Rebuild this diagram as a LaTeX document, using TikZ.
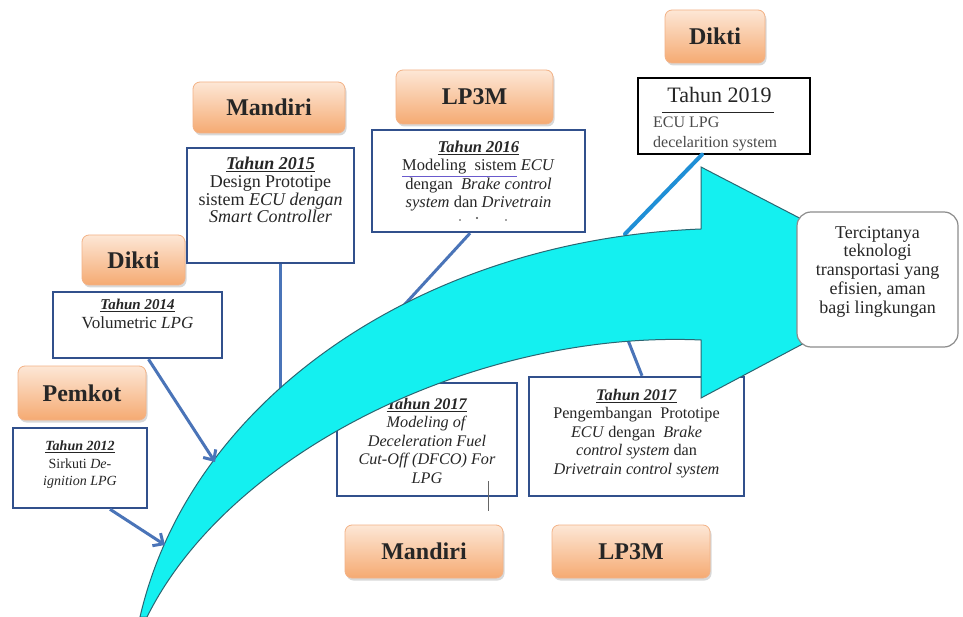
\documentclass[tikz,border=0pt]{standalone}
\usepackage{fontspec}
\setmainfont{Liberation Serif}
\usetikzlibrary{arrows.meta,shadows}

\definecolor{boxedge}{HTML}{31508C}
\definecolor{linkblue}{HTML}{4A74B8}
\definecolor{brightlink}{HTML}{1F8FD6}
\definecolor{arrowcyan}{HTML}{14F0F0}
\definecolor{arrowedge}{HTML}{2A6672}
\definecolor{tagtop}{HTML}{FDE7D6}
\definecolor{tagbot}{HTML}{F5AA72}
\definecolor{tagedge}{HTML}{F3B286}
\definecolor{txt}{HTML}{262626}
\definecolor{softtxt}{HTML}{4A4A4A}
\definecolor{spellblue}{HTML}{6A5ACD}

\newcommand\tahun[1]{\underline{\textbf{\textit{Tahun #1}}}}
\newcommand\spellmark[1]{\textcolor{spellblue}{\underline{\textcolor{txt}{#1}}}}
\newcommand\fs[2]{\fontsize{#1}{#2}\selectfont}

\tikzset{
  tag/.style={rounded corners=7pt, top color=tagtop, bottom color=tagbot,
    draw=tagedge, line width=0.8pt, font=\fs{24}{26}\bfseries, text=txt,
    inner sep=0pt, drop shadow={shadow xshift=1.5pt, shadow yshift=-2.5pt, opacity=0.3}},
  card/.style={draw=boxedge, line width=2.5pt, fill=white, inner sep=0pt},
  cardtext/.style={anchor=north, align=center, inner sep=0pt, text=txt},
  link/.style={draw=linkblue, line width=3pt},
  barb/.style={-{Straight Barb[length=8pt,width=15pt,line width=3pt]}},
  goal/.style={draw=black!45, line width=1.2pt, fill=white, rounded corners=14pt, inner sep=0pt},
}

\begin{document}
\begin{tikzpicture}[x=1pt,y=-1pt]
\useasboundingbox (0,0) rectangle (963,617);
\fill[white] (0,0) rectangle (963,617);

% funding labels
\node[tag, minimum width=128pt, minimum height=54pt] (tagPemkot) at (82,393) {Pemkot};
\node[tag, minimum width=103pt, minimum height=50pt] (tagDiktiA) at (133.5,260) {Dikti};
\node[tag, minimum width=152pt, minimum height=51pt] (tagMandiriA) at (269,107.5) {Mandiri};
\node[tag, minimum width=157pt, minimum height=54pt] (tagLPA) at (474.5,97) {LP3M};
\node[tag, minimum width=100pt, minimum height=53pt] (tagDiktiB) at (715,36.5) {Dikti};
\node[tag, minimum width=158pt, minimum height=53pt] (tagMandiriB) at (424,551.5) {Mandiri};
\node[tag, minimum width=158pt, minimum height=53pt] (tagLPB) at (631,551.5) {LP3M};

% milestone cards
\node[card, minimum width=134pt, minimum height=80pt] (c2012) at (80,468) {};
\node[cardtext, font=\fs{14}{17.5}] (x2012) at ([yshift=-14pt]c2012.north)
  {\tahun{2012}\\ Sirkuti \textit{De-}\\ \textit{ignition LPG}};

\node[card, minimum width=169pt, minimum height=66pt] (c2014) at (137.5,325) {};
\node[cardtext, font=\fs{17}{19}] (x2014) at ([yshift=-8pt]c2014.north)
  {{\fs{15}{17}\tahun{2014}}\\ Volumetric \textit{LPG}};

\node[card, minimum width=167pt, minimum height=115pt] (c2015) at (270.5,205.5) {};
\node[cardtext, font=\fs{18}{17.8}] (x2015) at ([yshift=-10pt]c2015.north)
  {\tahun{2015}\\ Design Prototipe\\ sistem \textit{ECU dengan}\\ \textit{Smart Controller}};

\node[card, minimum width=213pt, minimum height=102pt] (c2016) at (478.5,181) {};
\node[cardtext, font=\fs{16.5}{18.5}] (x2016) at ([yshift=-12pt]c2016.north)
  {\tahun{2016}\\ \spellmark{Modeling\ \ sistem} \textit{ECU}\\ dengan\ \ \textit{Brake control}\\
   \textit{system} dan \textit{Drivetrain}};
\fill[softtxt] (460,220) circle (0.9) (477,218) circle (1.1) (506,220) circle (0.9);

\node[card, minimum width=180pt, minimum height=113pt] (c2017a) at (427,439.5) {};
\node[cardtext, font=\fs{16.2}{18.5}] (x2017a) at ([yshift=-16pt]c2017a.north)
  {\tahun{2017}\\ \textit{Modeling of}\\ \textit{Deceleration Fuel}\\ \textit{Cut-Off (DFCO) For}\\ \textit{LPG}};

\node[card, minimum width=215pt, minimum height=119pt] (c2017b) at (636.5,436.5) {};
\node[cardtext, font=\fs{16.2}{18.5}] (x2017b) at ([yshift=-13pt]c2017b.north)
  {\tahun{2017}\\ Pengembangan\ \ Prototipe\\ \textit{ECU} dengan\ \ \textit{Brake}\\
   \textit{control system} dan\\ \textit{Drivetrain control system}};

\node[draw=black, line width=1.2pt, fill=white, minimum width=172pt, minimum height=76pt, inner sep=0pt] (c2019) at (724,116) {};
\node[anchor=base, inner sep=0pt, text=txt, font=\fs{22}{24}] (t2019) at (718,103)
  {\underline{\rule[-8pt]{0pt}{1pt}\hspace{5pt}Tahun 2019\hspace{2pt}}};
\node[anchor=north west, align=left, inner sep=0pt, text=softtxt, font=\fs{16}{20}] (x2019) at (653,117)
  {ECU LPG\\ decelarition system};

% connectors running beneath the arrow
\coordinate (e2015) at (280,410);
\coordinate (e2016) at (395,315);
\coordinate (e2017) at (622,325);
\coordinate (e2019) at (625,234);
\draw[link] ([xshift=9.5pt]c2015.south) -- (e2015);
\draw[link] ([xshift=-8.5pt]c2016.south) -- (e2016);
\draw[link] ([xshift=5.5pt]c2017b.north) -- (e2017);
\draw[draw=brightlink, line width=4pt, line cap=round] ([xshift=-22pt]c2019.south) -- (e2019);
\draw[black!60, line width=0.8pt] ([xshift=61pt,yshift=16pt]c2017a.south) coordinate (tickA)
  -- ([xshift=61pt,yshift=-14pt]c2017a.south) coordinate (tickB);

% the curved progress arrow
\draw[fill=arrowcyan, draw=arrowedge, line width=1pt, line join=miter]
  (140,617) .. controls (190,400) and (420,240) .. (701,229)
  -- (701,167) -- (921,281) -- (701,398) -- (701,340)
  .. controls (480,330) and (230,450) .. (147,617) -- cycle;

% connectors that point onto the arrow
\coordinate (e2012) at (165,545);
\coordinate (e2014) at (215,462);
\draw[link, barb] ([xshift=30pt]c2012.south) -- (e2012);
\draw[link, barb] ([xshift=11pt]c2014.south) -- (e2014);

% outcome
\node[goal, minimum width=161pt, minimum height=135pt] (goal) at (877.5,279.5) {};
\node[align=center, inner sep=0pt, text=txt, font=\fs{18}{18.75}] (goaltext) at ([yshift=8pt]goal.center)
  {Terciptanya\\ teknologi\\ transportasi yang\\ efisien, aman\\ bagi lingkungan};
\end{tikzpicture}
\end{document}
